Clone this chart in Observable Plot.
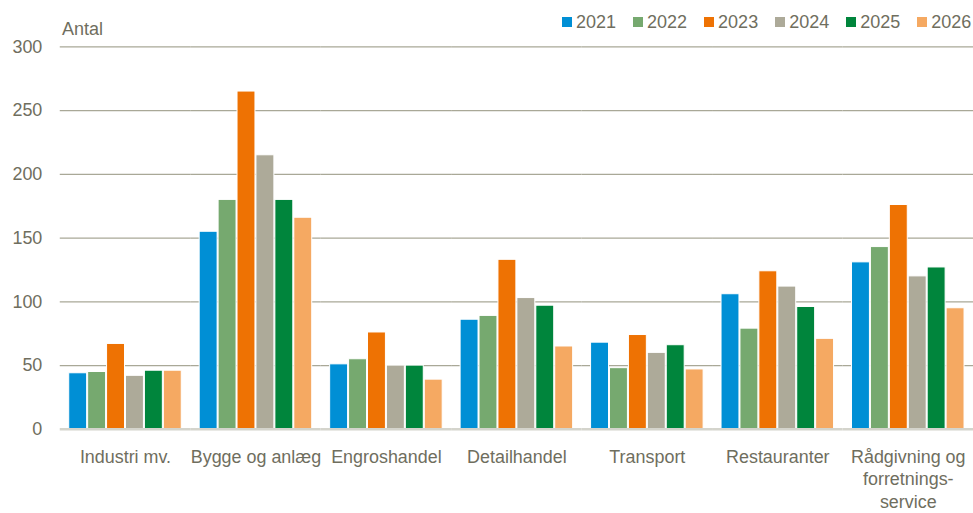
<!DOCTYPE html>
<html><head><meta charset="utf-8">
<script src="https://cdn.jsdelivr.net/npm/d3@7"></script>
<script src="https://cdn.jsdelivr.net/npm/@observablehq/plot@0.6"></script>
<style>
html,body{margin:0;padding:0;overflow:hidden;background:#fff;}
#wrap{position:relative;width:973px;height:513px;font-family:"Liberation Sans",Arial,sans-serif;color:#6f6e5e;}
#head{position:relative;height:30px;}
#antal{position:absolute;left:62px;top:18px;font-size:18px;line-height:22px;}
#legend{position:absolute;left:562px;top:11px;display:flex;gap:17px;font-size:18px;line-height:22px;}
.item{display:flex;align-items:center;gap:4px;}
.sw{width:10px;height:10px;display:inline-block;}
</style></head>
<body>
<div id="wrap">
  <div id="head"><div id="antal">Antal</div><div id="legend"></div></div>
  <div id="chart"></div>
</div>
<script>
const categories = ["Industri mv.", "Bygge og anlæg", "Engroshandel", "Detailhandel", "Transport", "Restauranter", "Rådgivning og\nforretnings-\nservice"];
const years = ["2021", "2022", "2023", "2024", "2025", "2026"];
const colors = ["#008fd5", "#76a96f", "#ee7203", "#adaa99", "#00853c", "#f5a962"];
const v2021 = [44, 155, 51, 86, 68, 106, 131];
const v2022 = [45, 180, 55, 89, 48, 79, 143];
const v2023 = [67, 265, 76, 133, 74, 124, 176];
const v2024 = [42, 215, 50, 103, 60, 112, 120];
const v2025 = [46, 180, 50, 97, 66, 96, 127];
const v2026 = [46, 166, 39, 65, 47, 71, 95];
const yTicks = [0, 50, 100, 150, 200, 250, 300];

const series = [v2021, v2022, v2023, v2024, v2025, v2026];
const data = [];
categories.forEach((c, i) => years.forEach((y, j) => data.push({category: c, year: y, value: series[j][i]})));

const legend = document.getElementById("legend");
years.forEach((y, j) => {
  const it = document.createElement("div"); it.className = "item";
  const sw = document.createElement("span"); sw.className = "sw"; sw.style.background = colors[j];
  const t = document.createElement("span"); t.textContent = y;
  it.appendChild(sw); it.appendChild(t); legend.appendChild(it);
});

const chart = Plot.plot({
  width: 977,
  height: 483,
  marginTop: 16.5,
  marginBottom: 82.5,
  marginLeft: 60,
  marginRight: 0,
  style: {fontFamily: '"Liberation Sans",Arial,sans-serif', fontSize: "18px", color: "#6f6e5e", background: "#fff", overflow: "visible"},
  fx: {domain: categories, padding: 0, label: null},
  x: {domain: years, axis: null, paddingInner: 0.03, paddingOuter: 0.42},
  y: {domain: [0, 300], label: null},
  color: {domain: years, range: colors},
  marks: [
    Plot.gridY(yTicks.filter(d => d > 0), {stroke: "#a9a897", strokeOpacity: 1, strokeWidth: 1.3}),
    Plot.barY(data, {fx: "category", x: "year", y: "value", fill: "year", stroke: "white", strokeWidth: 1}),
    Plot.ruleY([0], {stroke: "#d4d4cc", strokeWidth: 2.5}),
    Plot.axisY(yTicks, {tickSize: 0, tickPadding: 18, label: null, fontSize: 18}),
    Plot.axisFx({anchor: "bottom", tickSize: 0, tickPadding: 18, label: null, lineHeight: 1.24, fontSize: 18})
  ]
});
document.getElementById("chart").appendChild(chart);
</script>
</body></html>
